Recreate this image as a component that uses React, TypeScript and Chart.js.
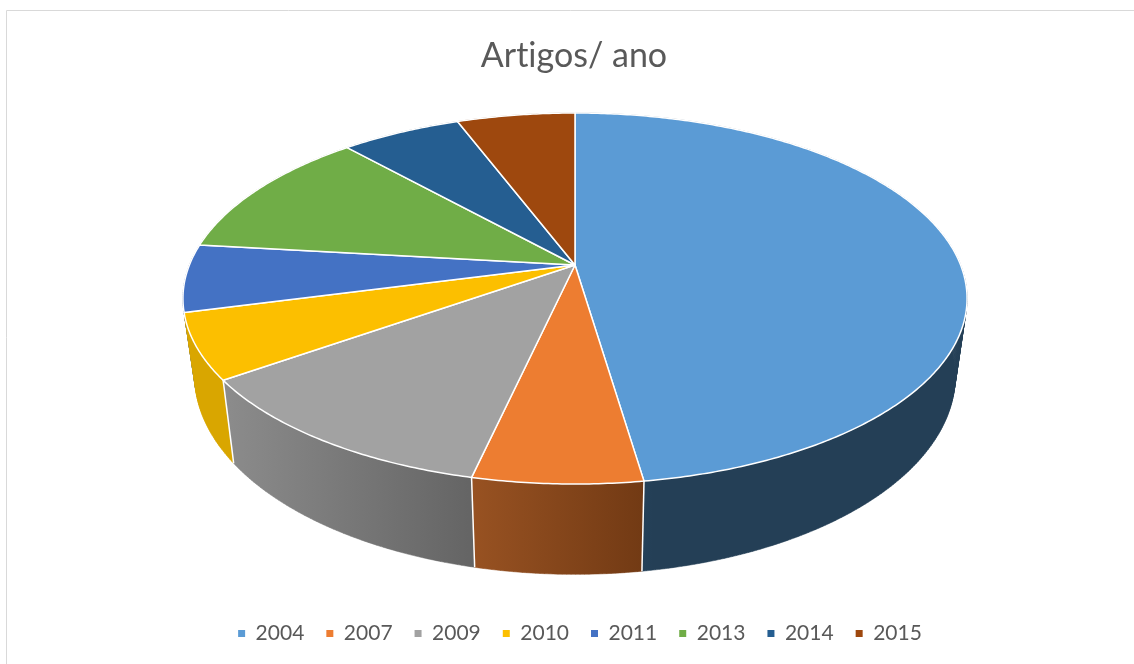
import React, { useEffect, useRef } from "react";
import { Chart, registerables } from "chart.js";

Chart.register(...registerables);

const categories = ["2004", "2007", "2009", "2010", "2011", "2013", "2014", "2015"];
const shares = [47.7, 5.9, 11.7, 5.7, 5.9, 11.5, 5.9, 5.8];
const topColors = ["#5B9BD5", "#ED7D31", "#A2A2A2", "#FCBF00", "#4472C4", "#70AD47", "#255E91", "#9E480E"];
const wallStart = ["#2B4D6E", "#985222", "#8C8C8C", "#D9A600", "#2F4F86", "#4E7931", "#1A4265", "#6E320A"];
const wallEnd = ["#243F56", "#723A14", "#646464", "#D9A600", "#2F4F86", "#4E7931", "#1A4265", "#6E320A"];

// Perspective projection of the pie disc
const CX = 575, CY = 265, A = 385.6, B = 179.45, K = -0.1806;
const BOTTOM_SX = 0.97, BOTTOM_SY = 1.07, BOTTOM_CY = 340;

function rim(t: number, bottom: boolean): [number, number] {
  const d = 1 + K * Math.sin(t);
  const x = (A * Math.cos(t)) / d;
  const y = (B * Math.sin(t)) / d;
  return bottom ? [CX + BOTTOM_SX * x, BOTTOM_CY + BOTTOM_SY * y] : [CX + x, CY + y];
}

function samples(a0: number, a1: number): number[] {
  const n = Math.max(2, Math.ceil((a1 - a0) / 0.01));
  const out: number[] = [];
  for (let i = 0; i <= n; i++) out.push(a0 + ((a1 - a0) * i) / n);
  return out;
}

const framePlugin = {
  id: "frame",
  afterLayout(chart: any) {
    // the legend row sits a little right of the title's centre
    chart.legend.left += 6;
    chart.legend.right += 6;
  },
  beforeDraw(chart: any) {
    const { ctx, width, height } = chart;
    ctx.textRendering = "optimizeSpeed";
    ctx.save();
    ctx.strokeStyle = "#D9D9D9";
    ctx.lineWidth = 1;
    ctx.beginPath();
    ctx.moveTo(6.5, height);
    ctx.lineTo(6.5, 10.5);
    ctx.lineTo(width, 10.5);
    ctx.stroke();
    ctx.restore();
  },
};

const pie3dPlugin = {
  id: "pie3d",
  beforeDatasetDraw(chart: any, args: any) {
    const { ctx } = chart;
    const arcs = args.meta.data.map((arc: any, i: number) => ({
      i,
      start: arc.startAngle as number,
      end: arc.endAngle as number,
    }));
    ctx.save();
    ctx.lineJoin = "round";

    // Walls, back to front
    const order = [...arcs].sort(
      (p: any, q: any) =>
        Math.max(...samples(p.start, p.end).map(Math.sin)) - Math.max(...samples(q.start, q.end).map(Math.sin)) ||
        Math.sin((p.start + p.end) / 2) - Math.sin((q.start + q.end) / 2)
    );
    for (const s of order) {
      const ts = samples(s.start, s.end);
      const top = ts.map((t) => rim(t, false));
      const bot = ts.map((t) => rim(t, true));
      const xs = top.concat(bot).map((p) => p[0]);
      const xMin = Math.min(...xs), xMax = Math.max(...xs);
      const g = ctx.createLinearGradient(xMin, 0, xMax, 0);
      g.addColorStop(0, wallStart[s.i]);
      if (s.i === 0) g.addColorStop(0.2, wallEnd[s.i]);
      g.addColorStop(1, wallEnd[s.i]);
      ctx.fillStyle = g;
      ctx.strokeStyle = g;
      ctx.lineWidth = 0.5;
      // The wall is a band: fill the union of its quads as one path.
      ctx.beginPath();
      for (let j = 0; j < ts.length - 1; j++) {
        ctx.moveTo(top[j][0], top[j][1]);
        ctx.lineTo(top[j + 1][0], top[j + 1][1]);
        ctx.lineTo(bot[j + 1][0], bot[j + 1][1]);
        ctx.lineTo(bot[j][0], bot[j][1]);
        ctx.closePath();
      }
      ctx.fill("nonzero");
      ctx.stroke();
    }
    // Wall dividers
    ctx.strokeStyle = "#FFFFFF";
    ctx.lineWidth = 1.5;
    for (const s of arcs) {
      if (Math.sin(s.end) > 0.45) {
        const p = rim(s.end, false), q = rim(s.end, true);
        ctx.beginPath();
        ctx.moveTo(p[0], p[1]);
        ctx.lineTo(q[0], q[1]);
        ctx.stroke();
      }
    }
    // Top face
    for (const s of arcs) {
      ctx.beginPath();
      ctx.moveTo(CX, CY);
      for (const t of samples(s.start, s.end)) {
        const p = rim(t, false);
        ctx.lineTo(p[0], p[1]);
      }
      ctx.closePath();
      ctx.fillStyle = topColors[s.i];
      ctx.fill();
      ctx.stroke();
    }
    ctx.restore();
    return false;
  },
};

export default function App() {
  const ref = useRef<HTMLCanvasElement>(null);
  useEffect(() => {
    document.body.style.margin = "0";
    const chart = new Chart(ref.current!, {
      type: "pie",
      data: {
        labels: categories,
        datasets: [{ data: shares, backgroundColor: topColors, borderWidth: 0 }],
      },
      options: {
        responsive: false,
        animation: false,
        layout: { padding: { top: 36, bottom: 10, left: 14 } },
        plugins: {
          title: {
            display: true,
            text: "Artigos/ ano",
            color: "#595959",
            font: { family: "Lato", size: 34, weight: "normal" },
            padding: { top: 0, bottom: 10 },
          },
          legend: {
            position: "bottom",
            labels: {
              boxWidth: 7,
              boxHeight: 7,
              padding: 22,
              color: "#595959",
              font: { family: "Lato", size: 21 },
            },
          },
          tooltip: { enabled: false },
        },
      },
      plugins: [framePlugin, pie3dPlugin],
    } as any);
    return () => chart.destroy();
  }, []);
  return <canvas ref={ref} width={1134} height={664} style={{ display: "block" }} />;
}
